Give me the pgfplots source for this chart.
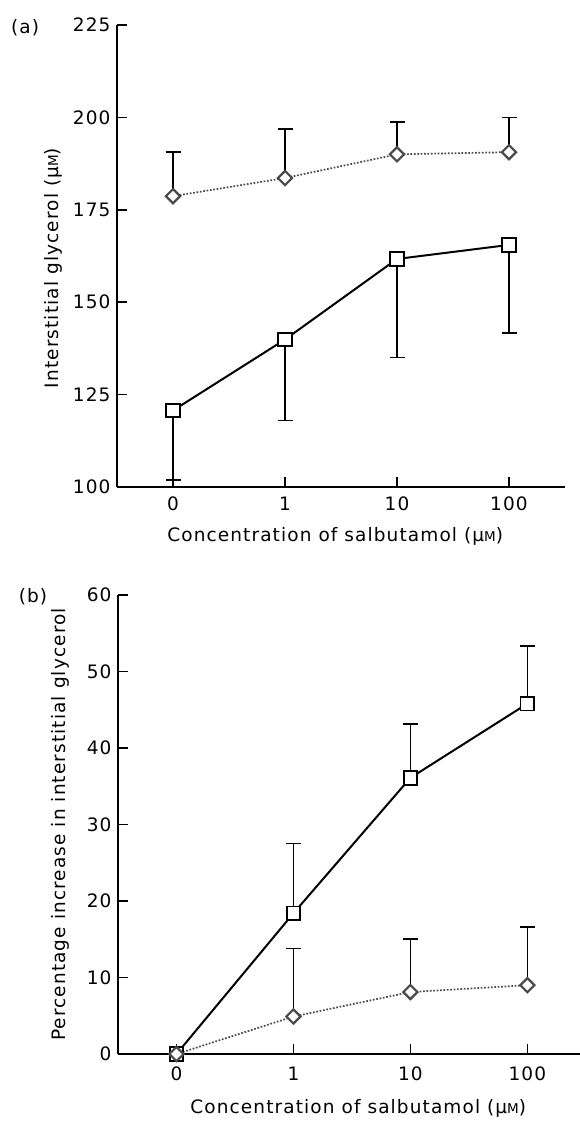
\documentclass[border=0pt]{standalone}
\usepackage{fontspec}
\setmainfont[LetterSpace=6]{DejaVu Sans}
\usepackage{pgfplots}
\pgfplotsset{compat=1.18}
\usepackage{pgfplotstable}

\pgfplotstableread{
x y e
0 120.7 18.8
1 139.9 21.9
2 161.7 26.7
3 165.5 23.9
}\asq
\pgfplotstableread{
x y e
0 178.7 12.0
1 183.6 13.3
2 190.0 8.7
3 190.6 9.4
}\adi
\pgfplotstableread{
x y e
0 0 0
1 18.4 9.1
2 36.1 7.0
3 45.8 7.5
}\bsq
\pgfplotstableread{
x y e
0 0 0
1 4.9 8.9
2 8.1 6.9
3 9.0 7.6
}\bdi

\definecolor{dgray}{HTML}{4A4A4A}

\pgfplotsset{
  myax/.style={
    scale only axis,
    axis x line*=bottom, axis y line*=left,
    axis line style={line width=1.8pt, -},
    tick style={line width=1.7pt, black},
    major tick length=10pt, tick align=inside,
    xtick={0,1,2,3}, xticklabels={0,1,10,100},
    xmin=-0.5,
    font=\fontsize{18.5}{21}\selectfont,
    ticklabel style={font=\fontsize{18.5}{21}\selectfont},
    /pgf/number format/assume math mode=true,
    yticklabel style={xshift=-3pt},
    clip=false,
  },
  sqline/.style={black, line width=2pt, mark=square*, mark size=6.8pt,
    mark options={fill=white, draw=black, line width=1.8pt, solid},
    error bars/.cd, y dir=#1, y explicit,
    error mark options={rotate=90, mark size=7.5pt, line width=1.7pt, black},
    error bar style={line width=1.7pt, black, solid}},
  diline/.style={dgray, line width=1.7pt, dash pattern=on 1.7pt off 1.7pt,
    mark=square*, mark size=5pt,
    mark options={rotate=45, fill=white, draw=dgray, line width=2.2pt, solid},
    error bars/.cd, y dir=plus, y explicit,
    error mark options={rotate=90, mark size=7.5pt, line width=1.7pt, black},
    error bar style={line width=1.7pt, black, solid}},
}

\begin{document}
\begin{tikzpicture}
\useasboundingbox (0,0) rectangle (580pt,-1121pt);
\begin{axis}[myax, at={(117pt,-487pt)}, anchor=south west,
  width=448pt, height=462pt, xmax=3.5,
  ymin=100, ymax=225, ytick={100,125,150,175,200,225},
  xticklabel style={yshift=-6pt},
  xlabel={Concentration of salbutamol (μ{\fontsize{13.5}{15}\selectfont M})},
  xlabel style={at={(axis description cs:0.487,-0.106)}, anchor=center},
  ylabel={Interstitial glycerol (μ{\fontsize{13.5}{15}\selectfont M})},
  ylabel style={at={(axis description cs:-0.143,0.474)}, anchor=center},
]
\addplot[sqline=minus] table[x=x, y=y, y error=e] {\asq};
\addplot[diline] table[x=x, y=y, y error=e] {\adi};
\end{axis}
\begin{axis}[myax, at={(118pt,-1054pt)}, anchor=south west,
  width=462pt, height=459pt, xmax=3.45,
  ymin=0, ymax=60, ytick={0,10,20,30,40,50,60},
  xticklabel style={yshift=-9pt},
  xlabel={Concentration of salbutamol (μ{\fontsize{13.5}{15}\selectfont M})},
  xlabel style={at={(axis description cs:0.52,-0.118)}, anchor=center},
  ylabel={Percentage increase in interstitial glycerol},
  ylabel style={at={(axis description cs:-0.1255,0.5)}, anchor=center},
]
\addplot[sqline=plus] table[x=x, y=y, y error=e] {\bsq};
\addplot[diline] table[x=x, y=y, y error=e] {\bdi};
\end{axis}
\node[font=\fontsize{18.5}{21}\selectfont] at (25pt,-28pt) {(a)};
\node[font=\fontsize{18.5}{21}\selectfont] at (33pt,-597pt) {(b)};
\end{tikzpicture}
\end{document}
